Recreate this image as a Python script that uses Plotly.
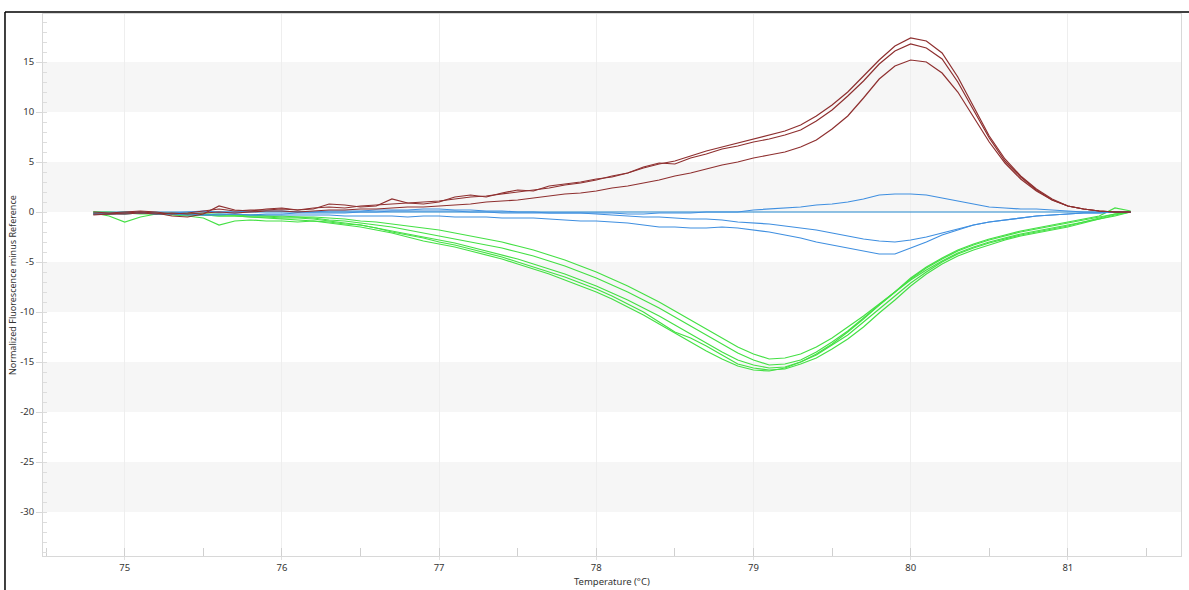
import plotly.graph_objects as go

temps = [round(74.8 + 0.1 * i, 1) for i in range(67)]

red_1 = [0, -0.1, 0, 0.1, 0, -0.2, -0.1, 0.1, 0.3, 0.1, 0.2, 0.2,
         0.3, 0.2, 0.4, 0.5, 0.4, 0.6, 0.7, 0.8, 0.9, 1.0,
         1.1, 1.3, 1.5, 1.6, 1.8, 2.0, 2.2, 2.4, 2.7, 2.9,
         3.2, 3.6, 3.9, 4.4, 4.8, 5.1, 5.6, 6.1, 6.5, 6.9,
         7.3, 7.7, 8.1, 8.7, 9.6, 10.7, 12.0, 13.6, 15.2, 16.6,
         17.4, 17.1, 15.9, 13.5, 10.5, 7.6, 5.3, 3.6, 2.3, 1.3,
         0.6, 0.3, 0.1, 0.0, 0.0]
red_2 = [-0.2, -0.2, -0.1, 0, -0.1, -0.4, -0.5, -0.2, 0.6, 0.2, 0.1, 0.3,
         0.4, 0.2, 0.3, 0.8, 0.7, 0.5, 0.6, 1.3, 0.9, 0.8,
         1.0, 1.5, 1.7, 1.5, 1.9, 2.2, 2.1, 2.6, 2.8, 3.0,
         3.3, 3.5, 3.9, 4.5, 4.9, 4.8, 5.4, 5.8, 6.3, 6.6,
         7.0, 7.3, 7.7, 8.2, 9.1, 10.2, 11.6, 13.1, 14.8, 16.1,
         16.8, 16.4, 15.3, 13.0, 10.2, 7.4, 5.1, 3.5, 2.2, 1.2,
         0.6, 0.3, 0.1, 0.0, 0.0]
red_3 = [-0.3, -0.2, -0.2, -0.1, -0.2, -0.1, -0.2, -0.1, 0.0, -0.1, 0.0, 0.1,
         0.1, 0.0, 0.1, 0.2, 0.2, 0.3, 0.3, 0.4, 0.5, 0.5,
         0.6, 0.7, 0.8, 1.0, 1.1, 1.2, 1.4, 1.6, 1.8, 1.9,
         2.1, 2.4, 2.6, 2.9, 3.2, 3.6, 3.9, 4.3, 4.7, 5.0,
         5.4, 5.7, 6.0, 6.5, 7.2, 8.3, 9.6, 11.4, 13.3, 14.6,
         15.2, 15.0, 13.9, 12.0, 9.5, 7.0, 4.9, 3.3, 2.1, 1.2,
         0.6, 0.3, 0.1, 0.0, 0.0]

green_1 = [0, 0, -0.1, 0, -0.1, -0.1, -0.2, -0.2, -0.2, -0.3, -0.3, -0.4,
           -0.4, -0.5, -0.5, -0.6, -0.7, -0.9, -1.0, -1.2, -1.4, -1.6,
           -1.8, -2.1, -2.4, -2.7, -3.0, -3.4, -3.8, -4.3, -4.8, -5.4,
           -6.0, -6.7, -7.4, -8.2, -9.0, -9.9, -10.8, -11.7, -12.6, -13.5,
           -14.2, -14.7, -14.6, -14.2, -13.5, -12.6, -11.5, -10.4, -9.2, -8.0,
           -6.8, -5.8, -4.9, -4.1, -3.5, -3.0, -2.6, -2.2, -1.9, -1.6,
           -1.3, -1.0, -0.7, -0.4, 0.0]
green_2 = [0, -0.1, 0, -0.1, -0.1, -0.2, -0.1, -0.2, -0.3, -0.3, -0.4, -0.4,
           -0.5, -0.5, -0.6, -0.8, -0.9, -1.1, -1.3, -1.5, -1.8, -2.1,
           -2.4, -2.7, -3.0, -3.3, -3.6, -4.0, -4.4, -4.9, -5.4, -6.0,
           -6.6, -7.3, -8.0, -8.8, -9.6, -10.5, -11.4, -12.3, -13.2, -14.1,
           -14.8, -15.3, -15.2, -14.8, -14.0, -13.0, -11.9, -10.6, -9.3, -8.0,
           -6.7, -5.6, -4.7, -3.9, -3.3, -2.8, -2.4, -2.0, -1.7, -1.4,
           -1.1, -0.8, -0.5, -0.2, 0.0]
green_3 = [-0.1, -0.4, -1.0, -0.5, -0.2, -0.2, -0.3, -0.3, -0.4, -0.4, -0.5, -0.5,
           -0.6, -0.6, -0.7, -0.9, -1.1, -1.3, -1.6, -1.9, -2.2, -2.5,
           -2.8, -3.1, -3.5, -3.9, -4.3, -4.7, -5.2, -5.7, -6.2, -6.8,
           -7.4, -8.1, -8.8, -9.6, -10.4, -11.3, -12.2, -13.1, -14.0, -14.8,
           -15.3, -15.6, -15.5, -15.0, -14.3, -13.3, -12.3, -11.0, -9.7, -8.4,
           -7.1, -6.0, -5.0, -4.2, -3.6, -3.1, -2.7, -2.3, -2.0, -1.7,
           -1.4, -1.0, -0.6, -0.2, 0.0]
green_4 = [-0.1, -0.1, -0.2, -0.1, -0.2, -0.3, -0.4, -0.6, -1.3, -0.9, -0.8, -0.9,
           -0.9, -1.0, -0.9, -1.0, -1.2, -1.3, -1.6, -2.0, -2.3, -2.6,
           -3.0, -3.3, -3.7, -4.1, -4.5, -5.0, -5.5, -6.0, -6.5, -7.1,
           -7.7, -8.4, -9.2, -10.0, -11.0, -12.0, -12.6, -13.4, -14.3, -15.2,
           -15.6, -15.8, -15.7, -15.2, -14.6, -13.7, -12.7, -11.5, -10.1, -8.8,
           -7.4, -6.2, -5.2, -4.4, -3.8, -3.3, -2.8, -2.4, -2.1, -1.8,
           -1.5, -1.1, -0.7, -0.3, 0.0]
green_5 = [-0.2, -0.2, -0.1, -0.2, -0.2, -0.2, -0.3, -0.3, -0.4, -0.4, -0.5, -0.6,
           -0.7, -0.8, -0.9, -1.1, -1.3, -1.5, -1.8, -2.1, -2.5, -2.9,
           -3.2, -3.5, -3.9, -4.3, -4.7, -5.2, -5.7, -6.2, -6.8, -7.4,
           -8.0, -8.7, -9.5, -10.3, -11.2, -12.1, -13.0, -13.9, -14.7, -15.4,
           -15.8, -15.9, -15.6, -15.0, -14.2, -13.2, -12.0, -10.7, -9.3, -8.0,
           -6.6, -5.5, -4.6, -3.8, -3.2, -2.7, -2.3, -1.9, -1.6, -1.3,
           -1.0, -0.7, -0.4, 0.4, 0.1]

blue_ref = [0.0, 0.0, 0.0, 0.0, 0.0, 0.0, 0.0, 0.0, 0.0, 0.0, 0.0, 0.0,
            0.0, 0.0, 0.0, 0.0, 0.0, 0.0, 0.0, 0.0, 0.0, 0.0,
            0.0, 0.0, 0.0, 0.0, 0.0, 0.0, 0.0, 0.0, 0.0, 0.0,
            0.0, 0.0, 0.0, 0.0, 0.0, 0.0, 0.0, 0.0, 0.0, 0.0,
            0.0, 0.0, 0.0, 0.0, 0.0, 0.0, 0.0, 0.0, 0.0, 0.0,
            0.0, 0.0, 0.0, 0.0, 0.0, 0.0, 0.0, 0.0, 0.0, 0.0,
            0.0, 0.0, 0.0, 0.0, 0.0]
blue_1 = [-0.1, -0.1, 0, 0, -0.1, -0.1, 0, 0.1, 0, 0, 0.1, 0.1,
          0.1, 0, 0, 0.1, 0.1, 0.1, 0.2, 0.2, 0.2, 0.3,
          0.3, 0.2, 0.2, 0.1, 0.1, 0.0, 0.0, -0.1, -0.1, -0.1,
          -0.1, -0.1, -0.2, -0.2, -0.1, -0.1, -0.1, 0.0, 0.0, 0.0,
          0.2, 0.3, 0.4, 0.5, 0.7, 0.8, 1.0, 1.3, 1.7, 1.8,
          1.8, 1.7, 1.4, 1.1, 0.8, 0.5, 0.4, 0.3, 0.3, 0.2,
          0.1, 0.0, 0.0, 0.0, 0.0]
blue_2 = [-0.2, -0.2, -0.1, -0.1, -0.2, -0.2, -0.3, -0.3, -0.2, -0.2, -0.3, -0.2,
          -0.2, -0.1, -0.1, -0.1, -0.1, 0.0, 0.0, 0.1, 0.1, 0.1,
          0.1, 0.1, 0.0, 0.0, -0.1, -0.1, -0.1, -0.1, -0.1, -0.1,
          -0.2, -0.3, -0.4, -0.5, -0.5, -0.6, -0.7, -0.7, -0.8, -1.0,
          -1.1, -1.2, -1.4, -1.6, -1.8, -2.1, -2.4, -2.7, -2.9, -3.0,
          -2.8, -2.5, -2.1, -1.7, -1.3, -1.0, -0.8, -0.6, -0.4, -0.3,
          -0.2, -0.1, -0.1, 0.0, 0.0]
blue_3 = [-0.2, -0.2, -0.2, -0.1, -0.2, -0.2, -0.2, -0.3, -0.3, -0.2, -0.3, -0.3,
          -0.3, -0.3, -0.3, -0.3, -0.4, -0.4, -0.4, -0.4, -0.5, -0.4,
          -0.4, -0.5, -0.5, -0.5, -0.6, -0.6, -0.6, -0.7, -0.8, -0.9,
          -0.9, -1.0, -1.1, -1.3, -1.5, -1.5, -1.6, -1.6, -1.5, -1.6,
          -1.8, -2.0, -2.3, -2.6, -3.0, -3.3, -3.6, -3.9, -4.2, -4.2,
          -3.6, -3.0, -2.3, -1.8, -1.3, -1.0, -0.8, -0.6, -0.4, -0.3,
          -0.2, -0.1, -0.1, 0.0, 0.0]

x_ticks = [75, 76, 77, 78, 79, 80, 81]
y_ticks = [15, 10, 5, 0, -5, -10, -15, -20, -25, -30]
bands = [(10, 15), (0, 5), (-10, -5), (-20, -15), (-30, -25)]

RED = "#8e2f2f"
GREEN = "#44e044"
BLUE = "#3f8fe0"
REF = "#2186cc"

fig = go.Figure()
fig.add_trace(go.Scatter(x=temps, y=blue_ref, mode="lines", line=dict(color=REF, width=1.2)))
for g in [green_1, green_2, green_3, green_4, green_5]:
    fig.add_trace(go.Scatter(x=temps, y=g, mode="lines", line=dict(color=GREEN, width=1.2)))
for b in [blue_1, blue_2, blue_3]:
    fig.add_trace(go.Scatter(x=temps, y=b, mode="lines", line=dict(color=BLUE, width=1.2)))
for r in [red_1, red_2, red_3]:
    fig.add_trace(go.Scatter(x=temps, y=r, mode="lines", line=dict(color=RED, width=1.2)))

shapes = []
for lo, hi in bands:
    shapes.append(dict(type="rect", xref="paper", yref="y", x0=0, x1=1, y0=lo, y1=hi,
                       fillcolor="#f6f6f6", line=dict(width=0), layer="below"))
# outer frame (top and left black border)
shapes.append(dict(type="line", xref="paper", yref="paper", x0=-0.0334, x1=1.01, y0=1.0037, y1=1.0037,
                   line=dict(color="black", width=1.5)))
shapes.append(dict(type="line", xref="paper", yref="paper", x0=-0.0334, x1=-0.0334, y0=1.0037, y1=-0.07,
                   line=dict(color="black", width=1.5)))

annotations = [
    dict(text="Temperature (°C)", xref="paper", yref="paper", x=0.5, y=-0.047,
         xanchor="center", yanchor="middle", showarrow=False, font=dict(size=9.5, color="#333333")),
    dict(text="Normalized Fluorescence minus Reference", xref="paper", yref="paper",
         x=-0.0272, y=0.5, textangle=-90, xanchor="center", yanchor="middle",
         showarrow=False, font=dict(size=9, color="#333333")),
]

fig.update_layout(
    width=1189, height=590,
    margin=dict(l=43, r=8, t=14, b=34),
    paper_bgcolor="white", plot_bgcolor="white",
    showlegend=False,
    shapes=shapes,
    annotations=annotations,
    font=dict(family="Noto Sans, sans-serif", size=10, color="#333333"),
    xaxis=dict(
        range=[74.48, 81.72], tickvals=x_ticks, ticktext=[str(v) for v in x_ticks],
        showgrid=True, gridcolor="#eeeeee", gridwidth=1,
        ticks="outside", ticklen=3, tickcolor="#e0e0e0",
        showline=True, linecolor="#d8d8d8", linewidth=1, mirror=True,
        zeroline=False, automargin=False,
        minor=dict(dtick=0.5, tick0=74.5, ticks="inside", ticklen=8, tickcolor="#d0d0d0", showgrid=False),
        tickfont=dict(size=9.5),
    ),
    yaxis=dict(
        range=[-34.4, 19.8], tickvals=y_ticks, ticktext=[str(v) for v in y_ticks],
        showgrid=False, zeroline=False, automargin=False,
        ticks="outside", ticklen=6, tickcolor="#d8d8d8",
        showline=True, linecolor="#d8d8d8", linewidth=1, mirror=True,
        minor=dict(dtick=1, ticks="inside", ticklen=4, tickcolor="#dddddd", showgrid=False),
        tickfont=dict(size=9.5),
    ),
)

fig.write_html("out.html", config={"displayModeBar": False},
               post_script="document.body.style.margin='0';document.body.style.overflow='hidden';")
